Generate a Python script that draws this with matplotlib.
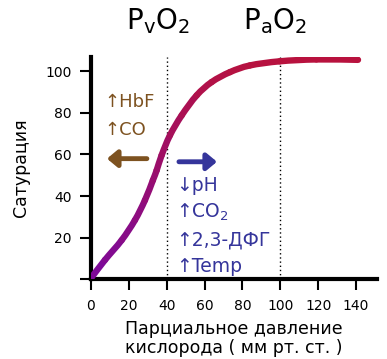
import numpy as np
import matplotlib.pyplot as plt
from matplotlib.path import Path
from matplotlib.patches import PathPatch
from matplotlib.colors import LinearSegmentedColormap

# Dissociation curve
pressure = [0, 7.4, 16.2, 23.2, 28.5, 32.7, 34.7, 37.3, 41.7, 47.9,
            55.8, 63.7, 73.4, 83.9, 99.7, 119, 141]
saturation = [0.5, 9.3, 18.8, 28.4, 38, 47.6, 52.4, 59.6, 69.2, 78.8,
              88.4, 94.8, 99.6, 102.8, 104.8, 105.7, 105.5]

x_ticks = [0, 20, 40, 60, 80, 100, 120, 140]
y_ticks = [0, 20, 40, 60, 80, 100]
y_tick_labels = ["", "20", "40", "60", "80", "100"]
markers = [40, 100]
marker_names = [r"$\mathregular{P_vO_2}$", r"$\mathregular{P_aO_2}$"]
left_shift = ["\u2191HbF", "\u2191CO"]
right_shift = ["\u2193pH", "\u2191CO$_2$", "\u21912,3-ДФГ", "\u2191Temp"]

brown = "#7d5220"
blue = "#35359b"

fig = plt.figure(figsize=(3.87, 3.59), dpi=100)
ax = fig.add_axes([0.235, 0.222, 0.739, 0.62])

# smooth curve: one bezier piece between neighbouring points,
# coloured from purple (bottom) to crimson (top)
cmap = LinearSegmentedColormap.from_list("o2", ["#7b0a9c", "#b8123e"])
pts = np.column_stack([pressure, saturation])
n = len(pts)
for i in range(n - 1):
    p0 = pts[max(i - 1, 0)]
    p1, p2 = pts[i], pts[i + 1]
    p3 = pts[min(i + 2, n - 1)]
    c1 = p1 + (p2 - p0) / 6
    c2 = p2 - (p3 - p1) / 6
    path = Path([p1, c1, c2, p2], [Path.MOVETO, Path.CURVE4, Path.CURVE4, Path.CURVE4])
    col = cmap((p1[1] + p2[1]) / 2 / 106)
    ax.add_patch(PathPatch(path, facecolor="none", edgecolor=col, lw=4.6,
                           capstyle="round", joinstyle="round", zorder=3))

for m in markers:
    ax.plot([m, m], [0, 107], color="black", linestyle=(0, (1, 2)), lw=1, zorder=1)

for m, name, dx in zip(markers, marker_names, [-4.5, -3]):
    ax.text(m + dx, 124, name, fontsize=20, ha="center", va="center", clip_on=False)

ax.set_xlim(0, 151)
ax.set_ylim(0, 107)
ax.set_xticks(x_ticks)
ax.set_yticks(y_ticks)
ax.set_yticklabels(y_tick_labels)
ax.tick_params(length=8, width=1.5, labelsize=10, pad=6, direction="out")
for s in ["top", "right"]:
    ax.spines[s].set_visible(False)
for s in ["left", "bottom"]:
    ax.spines[s].set_linewidth(3)

ax.set_ylabel("Сатурация", fontsize=12.5, labelpad=11)
ax.set_xlabel("Парциальное давление\nкислорода ( мм рт. ст. )", fontsize=12.5,
              linespacing=1.1, labelpad=5)

for i, t in enumerate(left_shift):
    ax.text(7, 85 - i * 13, t, color=brown, fontsize=13, va="center")
ax.annotate("", xy=(7, 58), xytext=(31, 58),
            arrowprops=dict(arrowstyle="-|>,head_length=0.6,head_width=0.5",
                            color=brown, lw=3.5))

for i, t in enumerate(right_shift):
    ax.text(45, 45 - i * 13, t, color=blue, fontsize=13.5, va="center")
ax.annotate("", xy=(68, 56.5), xytext=(45, 56.5),
            arrowprops=dict(arrowstyle="-|>,head_length=0.6,head_width=0.5",
                            color=blue, lw=3.5))

fig.savefig("out.png", dpi=100)
